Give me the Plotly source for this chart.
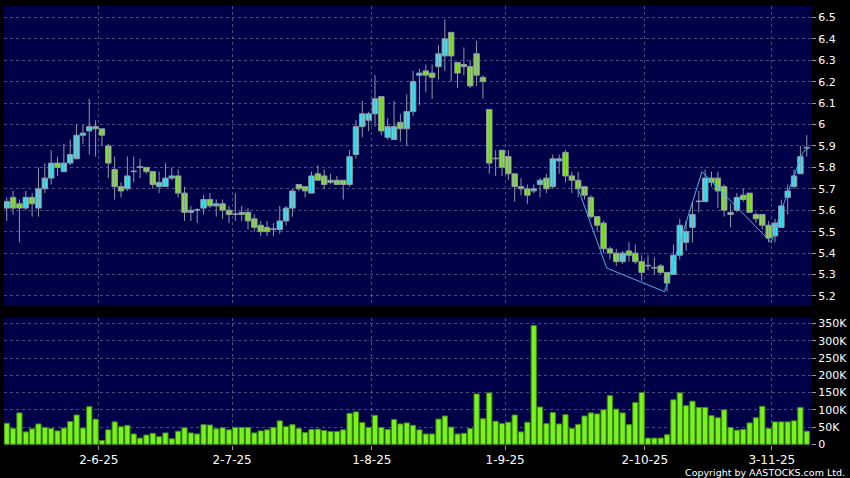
import pandas as pd
import plotly.graph_objects as go

# trading days (HK holidays removed)
holidays = ["2025-07-01", "2025-10-01", "2025-10-07", "2025-10-29"]
dates = [d.strftime("%Y-%m-%d") for d in pd.bdate_range("2025-05-13", "2025-11-11")
         if d.strftime("%Y-%m-%d") not in holidays]

open_ = [5.61, 5.66, 5.63, 5.61, 5.66, 5.61, 5.70, 5.75, 5.82, 5.78,
         5.82, 5.84, 5.95, 5.97, 5.99, 5.98, 5.90, 5.79, 5.71, 5.70,
         5.78, 5.80, 5.80, 5.78, 5.71, 5.71, 5.75, 5.76, 5.68, 5.59,
         5.60, 5.61, 5.65, 5.62, 5.63, 5.60, 5.58, 5.59, 5.59, 5.56,
         5.53, 5.52, 5.51, 5.51, 5.55, 5.61, 5.72, 5.71, 5.68, 5.77,
         5.76, 5.73, 5.74, 5.74, 5.72, 5.86, 5.99, 6.02, 6.05, 6.13,
         5.94, 5.93, 6.01, 5.98, 6.06, 6.23, 6.25, 6.24, 6.27, 6.32,
         6.43, 6.29, 6.28, 6.27, 6.33, 6.22, 6.07, 5.84, 5.88, 5.85,
         5.77, 5.71, 5.70, 5.69, 5.72, 5.75, 5.71, 5.83, 5.87, 5.76,
         5.74, 5.71, 5.66, 5.57, 5.54, 5.42, 5.40, 5.36, 5.41, 5.40,
         5.36, 5.34, 5.33, 5.34, 5.31, 5.30, 5.39, 5.45, 5.52, 5.64,
         5.64, 5.75, 5.75, 5.71, 5.58, 5.60, 5.67, 5.68, 5.58, 5.58,
         5.53, 5.48, 5.52, 5.66, 5.71, 5.77, 5.89]
high = [5.66, 5.69, 5.65, 5.69, 5.68, 5.80, 5.82, 5.88, 5.85, 5.91,
        5.93, 6.00, 6.00, 6.12, 6.02, 5.98, 5.91, 5.85, 5.73, 5.85,
        5.85, 5.84, 5.80, 5.78, 5.78, 5.82, 5.80, 5.79, 5.71, 5.62,
        5.61, 5.67, 5.68, 5.65, 5.65, 5.62, 5.68, 5.62, 5.61, 5.58,
        5.55, 5.55, 5.54, 5.62, 5.62, 5.70, 5.72, 5.71, 5.78, 5.81,
        5.79, 5.77, 5.76, 5.74, 5.88, 6.02, 6.11, 6.06, 6.23, 6.13,
        6.03, 6.11, 6.05, 6.14, 6.25, 6.26, 6.28, 6.28, 6.37, 6.49,
        6.43, 6.29, 6.36, 6.30, 6.39, 6.23, 6.07, 5.88, 5.88, 5.88,
        5.77, 5.75, 5.72, 5.72, 5.75, 5.77, 5.86, 5.86, 5.88, 5.78,
        5.78, 5.71, 5.67, 5.57, 5.55, 5.43, 5.42, 5.41, 5.45, 5.44,
        5.39, 5.39, 5.38, 5.35, 5.31, 5.44, 5.56, 5.55, 5.64, 5.69,
        5.79, 5.78, 5.78, 5.72, 5.63, 5.68, 5.70, 5.68, 5.59, 5.58,
        5.55, 5.56, 5.65, 5.72, 5.79, 5.90, 5.95]
low = [5.55, 5.58, 5.45, 5.60, 5.57, 5.57, 5.68, 5.72, 5.76, 5.78,
       5.81, 5.84, 5.91, 5.86, 5.85, 5.90, 5.75, 5.65, 5.66, 5.69,
       5.73, 5.75, 5.77, 5.70, 5.68, 5.71, 5.74, 5.66, 5.55, 5.55,
       5.54, 5.58, 5.61, 5.57, 5.56, 5.54, 5.55, 5.55, 5.51, 5.50,
       5.48, 5.48, 5.48, 5.49, 5.53, 5.57, 5.69, 5.66, 5.68, 5.74,
       5.70, 5.72, 5.72, 5.65, 5.71, 5.84, 5.94, 5.97, 5.99, 5.95,
       5.93, 5.93, 5.92, 5.90, 6.04, 6.09, 6.15, 6.12, 6.21, 6.25,
       6.20, 6.17, 6.23, 6.17, 6.18, 6.12, 5.77, 5.76, 5.76, 5.74,
       5.64, 5.67, 5.63, 5.68, 5.66, 5.68, 5.70, 5.77, 5.73, 5.68,
       5.66, 5.65, 5.56, 5.50, 5.40, 5.37, 5.34, 5.35, 5.36, 5.35,
       5.27, 5.32, 5.30, 5.30, 5.22, 5.30, 5.37, 5.41, 5.45, 5.59,
       5.64, 5.71, 5.61, 5.57, 5.52, 5.59, 5.64, 5.59, 5.54, 5.51,
       5.45, 5.45, 5.52, 5.58, 5.70, 5.77, 5.85]
close = [5.64, 5.61, 5.61, 5.66, 5.63, 5.70, 5.75, 5.82, 5.80, 5.82,
         5.86, 5.95, 5.96, 5.99, 5.98, 5.95, 5.82, 5.71, 5.69, 5.76,
         5.78, 5.80, 5.78, 5.72, 5.73, 5.75, 5.76, 5.68, 5.59, 5.60,
         5.60, 5.65, 5.62, 5.63, 5.60, 5.58, 5.58, 5.58, 5.55, 5.52,
         5.50, 5.50, 5.51, 5.55, 5.61, 5.69, 5.70, 5.69, 5.76, 5.74,
         5.72, 5.74, 5.72, 5.72, 5.85, 5.99, 6.05, 6.05, 6.12, 5.97,
         5.99, 5.99, 5.98, 6.06, 6.20, 6.24, 6.23, 6.22, 6.33, 6.40,
         6.32, 6.24, 6.27, 6.18, 6.23, 6.20, 5.82, 5.84, 5.80, 5.77,
         5.71, 5.70, 5.67, 5.70, 5.74, 5.70, 5.84, 5.84, 5.76, 5.74,
         5.70, 5.67, 5.57, 5.53, 5.42, 5.40, 5.36, 5.40, 5.39, 5.36,
         5.31, 5.34, 5.33, 5.31, 5.26, 5.39, 5.53, 5.50, 5.58, 5.64,
         5.75, 5.73, 5.69, 5.60, 5.59, 5.66, 5.65, 5.59, 5.56, 5.53,
         5.47, 5.54, 5.62, 5.69, 5.76, 5.85, 5.89]

# volume in thousands of shares
volume_k = [61, 46, 91, 36, 45, 59, 49, 46, 39, 47,
            66, 85, 47, 109, 73, 11, 42, 65, 51, 55,
            30, 18, 27, 32, 22, 33, 16, 38, 48, 33,
            30, 57, 56, 45, 48, 42, 49, 49, 49, 33,
            39, 42, 49, 68, 51, 57, 46, 34, 43, 44,
            40, 37, 37, 42, 90, 94, 63, 49, 84, 49,
            43, 72, 59, 62, 55, 42, 30, 30, 73, 82,
            50, 30, 32, 46, 146, 74, 149, 67, 60, 64,
            85, 36, 64, 344, 108, 60, 92, 59, 86, 46,
            58, 82, 91, 88, 100, 141, 102, 91, 57, 121,
            150, 18, 18, 18, 28, 129, 149, 112, 125, 107,
            107, 83, 77, 100, 49, 41, 43, 62, 77, 110,
            46, 65, 65, 65, 68, 107, 38]

# drawn trend line (bar position, price)
trend_x = [90, 94.5, 103.6, 109.5, 120.4, 122.5, 125.4, 126.3]
trend_y = [5.70, 5.33, 5.22, 5.78, 5.45, 5.64, 5.87, 5.89]

tick_dates = ["2025-06-02", "2025-07-02", "2025-08-01", "2025-09-01", "2025-10-02", "2025-11-03"]
tick_text = ["2-6-25", "2-7-25", "1-8-25", "1-9-25", "2-10-25", "3-11-25"]

price_ticks = [5.2, 5.3, 5.4, 5.5, 5.6, 5.7, 5.8, 5.9, 6.0, 6.1, 6.2, 6.3, 6.4, 6.5]
price_text = ["5.2", "5.3", "5.4", "5.5", "5.6", "5.7", "5.8", "5.9", "6", "6.1", "6.2", "6.3", "6.4", "6.5"]
vol_ticks = [0, 50000, 100000, 150000, 200000, 250000, 300000, 350000]
vol_text = ["0", "50K", "100K", "150K", "200K", "250K", "300K", "350K"]

x = list(range(len(dates)))
volume = [v * 1000 for v in volume_k]
tick_pos = [dates.index(d) + 0.5 for d in tick_dates]

NAVY = "#000048"
GRID = "rgba(150,150,190,0.5)"
WICK = "#8d9aa6"
UP = "#34e6f4"
DOWN = "#84e426"

# candle bodies as floating bars, wicks as one broken line
body_base = [min(o, c) for o, c in zip(open_, close)]
body_len = [max(abs(c - o), 0.003) for o, c in zip(open_, close)]
body_col = [UP if c > o else DOWN for o, c in zip(open_, close)]
wick_x, wick_y = [], []
for i in x:
    wick_x += [i, i, None]
    wick_y += [low[i], high[i], None]

fig = go.Figure()

fig.add_trace(go.Scatter(
    x=wick_x, y=wick_y, mode="lines", line=dict(color=WICK, width=1),
    xaxis="x", yaxis="y", showlegend=False, hoverinfo="skip",
))
fig.add_trace(go.Bar(
    x=x, y=body_len, base=body_base, width=0.86,
    marker=dict(color=body_col, line=dict(color=WICK, width=1)),
    xaxis="x", yaxis="y", showlegend=False, hoverinfo="skip",
))
fig.add_trace(go.Scatter(
    x=trend_x, y=trend_y, mode="lines",
    line=dict(color="#48b4e8", width=1),
    xaxis="x", yaxis="y", showlegend=False, hoverinfo="skip",
))
fig.add_trace(go.Bar(
    x=x, y=volume, width=0.82,
    marker=dict(color="#7af21e", line=dict(color="#3d8a12", width=1)),
    xaxis="x2", yaxis="y2", showlegend=False, hoverinfo="skip",
))

xrange = [-0.43, 126.67]
common_x = dict(range=xrange, showgrid=True, gridcolor=GRID, griddash="3px,3px", gridwidth=1,
                zeroline=False, showline=False, tickmode="array", tickvals=tick_pos,
                fixedrange=True)
common_y = dict(side="right", showgrid=True, gridcolor=GRID, griddash="3px,3px", gridwidth=1,
                zeroline=False, showline=False, ticks="outside", ticklen=4, tickcolor="#9a9a9a",
                tickfont=dict(family="DejaVu Sans", size=11, color="#ffffff"), tickmode="array",
                fixedrange=True)

fig.update_layout(
    width=850, height=478,
    margin=dict(l=4, r=39, t=6, b=33),
    paper_bgcolor="#000000", plot_bgcolor=NAVY,
    barmode="overlay",
    xaxis=dict(domain=[0, 1], anchor="y", showticklabels=False, ticks="", **common_x),
    xaxis2=dict(domain=[0, 1], anchor="y2", matches="x", ticktext=tick_text, ticks="outside",
                ticklen=4, tickcolor="#9a9a9a",
                tickfont=dict(family="DejaVu Sans", size=12, color="#ffffff"), **common_x),
    yaxis=dict(domain=[0.3166, 1], anchor="x", range=[5.153, 6.553], tickvals=price_ticks,
               ticktext=price_text, **common_y),
    yaxis2=dict(domain=[0, 0.2893], anchor="x2", range=[-2000, 366000], tickvals=vol_ticks,
                ticktext=vol_text, **common_y),
    showlegend=False,
)

fig.add_annotation(
    text="Copyright by AASTOCKS.com Ltd.", xref="paper", yref="paper",
    x=1.0446, y=-0.0625, xanchor="right", yanchor="middle", showarrow=False,
    font=dict(family="DejaVu Sans", size=9.5, color="#ffffff"),
)

# drop the browser's default body margin so the figure sits at the page corner
fig.write_html("out.html", config={"displayModeBar": False},
               post_script="document.body.style.margin='0';")
